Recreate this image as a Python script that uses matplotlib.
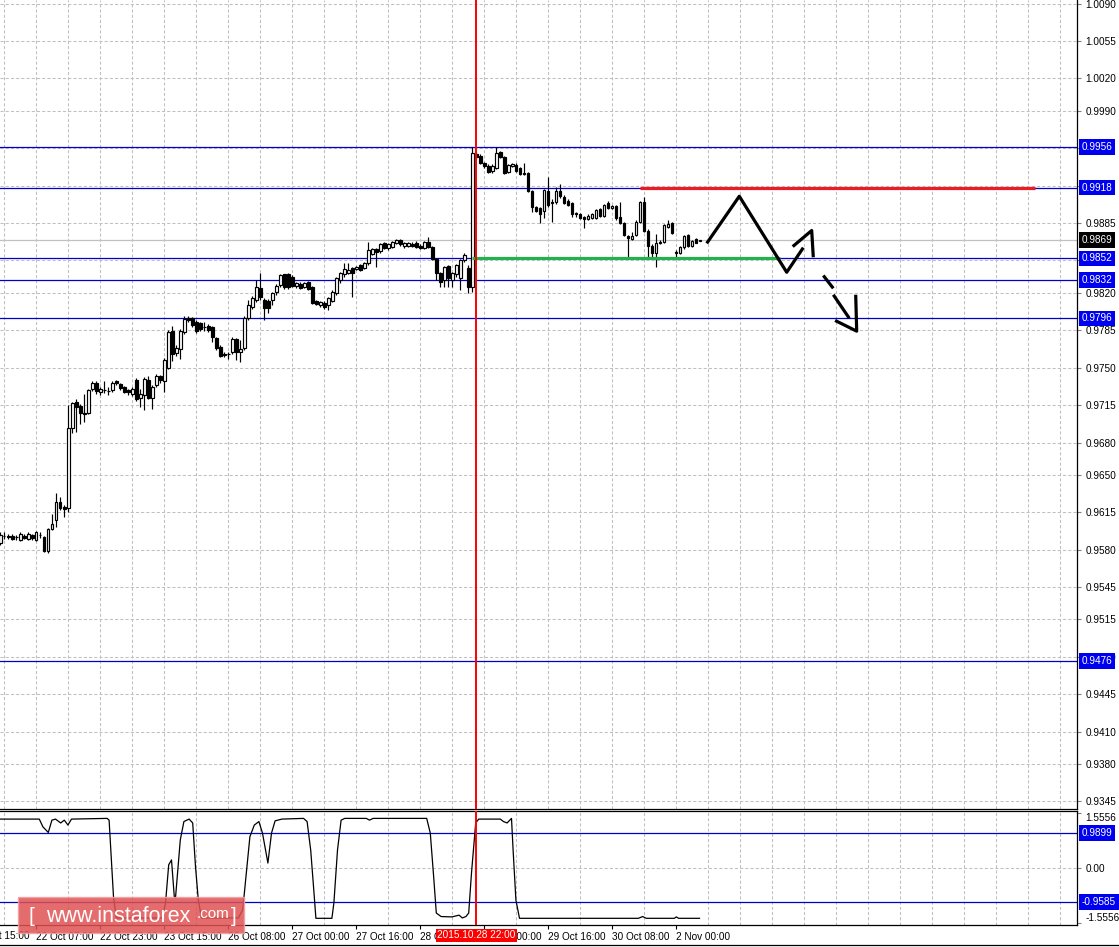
import matplotlib
matplotlib.use("Agg")
import matplotlib.pyplot as plt
from matplotlib.patches import Rectangle
from matplotlib.lines import Line2D
import numpy as np

plt.rcParams['font.family'] = ['Liberation Sans', 'DejaVu Sans']

# H1 candles, bar 0 = 21 Oct 22:00
opens = [
    .9586, .9593, .9593, .9593, .9592, .9589, .9593, .9590, .9594, .9589,
    .9594, .9592, .9579, .9599, .9608, .9624, .9620, .9619, .9694, .9718,
    .9714, .9708, .9708, .9730, .9736, .9727, .9729, .9728, .9729, .9737,
    .9735, .9732, .9729, .9725, .9738, .9722, .9724, .9738, .9722, .9734,
    .9742, .9737, .9750, .9784, .9764, .9767, .9783, .9796, .9796, .9793,
    .9792, .9788, .9789, .9788, .9778, .9769, .9763, .9763, .9765, .9777,
    .9765, .9768, .9796, .9807, .9813, .9824, .9813, .9812, .9813, .9821,
    .9827, .9837, .9837, .9835, .9826, .9828, .9825, .9830, .9825, .9812,
    .9808, .9810, .9808, .9812, .9820, .9832, .9837, .9838, .9843, .9842,
    .9846, .9843, .9848, .9856, .9861, .9859, .9866, .9862, .9863, .9866,
    .9869, .9864, .9864, .9865, .9866, .9864, .9862, .9867, .9863, .9851,
    .9838, .9832, .9845, .9832, .9837, .9834, .9850, .9843, .9825, .9949,
    .9948, .9941, .9938, .9934, .9936, .9951, .9947, .9933, .9938, .9939,
    .9936, .9932, .9932, .9915, .9900, .9899, .9896, .9915, .9904, .9905,
    .9915, .9909, .9906, .9904, .9894, .9893, .9891, .9889, .9890, .9890,
    .9898, .9892, .9904, .9899, .9901, .9891, .9885, .9873, .9870, .9874,
    .9886, .9905, .9878, .9864, .9857, .9867, .9867, .9881, .9885, .9858,
    .9857, .9863, .9874, .9864, .9870, .9868]
highs = [
    .9596, .9596, .9595, .9595, .9594, .9596, .9595, .9596, .9595, .9597,
    .9596, .9593, .9600, .9613, .9633, .9629, .9622, .9715, .9718, .9721,
    .9716, .9725, .9730, .9737, .9737, .9732, .9737, .9732, .9737, .9738,
    .9736, .9733, .9730, .9732, .9740, .9730, .9741, .9742, .9734, .9744,
    .9743, .9759, .9785, .9789, .9771, .9786, .9798, .9798, .9797, .9794,
    .9793, .9793, .9791, .9789, .9779, .9771, .9765, .9765, .9779, .9778,
    .9776, .9798, .9813, .9817, .9832, .9838, .9815, .9814, .9821, .9828,
    .9837, .9837, .9838, .9836, .9830, .9830, .9830, .9831, .9826, .9813,
    .9812, .9812, .9816, .9822, .9835, .9839, .9848, .9848, .9844, .9845,
    .9847, .9849, .9867, .9862, .9862, .9866, .9867, .9866, .9868, .9870,
    .9870, .9867, .9867, .9867, .9868, .9865, .9868, .9872, .9864, .9852,
    .9839, .9845, .9846, .9839, .9847, .9851, .9857, .9846, .9956, .9951,
    .9949, .9942, .9940, .9940, .9956, .9952, .9948, .9940, .9941, .9941,
    .9937, .9941, .9933, .9916, .9901, .9900, .9917, .9928, .9907, .9919,
    .9921, .9911, .9907, .9905, .9895, .9894, .9892, .9893, .9894, .9898,
    .9899, .9903, .9906, .9902, .9902, .9905, .9886, .9874, .9877, .9888,
    .9906, .9909, .9879, .9865, .9875, .9869, .9884, .9888, .9886, .9860,
    .9864, .9874, .9875, .9869, .9871, .9869]
lows = [
    .9584, .9590, .9590, .9589, .9589, .9588, .9590, .9589, .9589, .9588,
    .9591, .9578, .9577, .9598, .9601, .9617, .9610, .9615, .9689, .9690,
    .9697, .9699, .9707, .9728, .9725, .9724, .9726, .9724, .9727, .9734,
    .9729, .9726, .9724, .9723, .9719, .9713, .9710, .9721, .9711, .9732,
    .9736, .9727, .9749, .9756, .9761, .9758, .9781, .9793, .9788, .9782,
    .9784, .9784, .9783, .9774, .9766, .9760, .9760, .9758, .9763, .9757,
    .9755, .9766, .9794, .9805, .9811, .9813, .9794, .9801, .9808, .9818,
    .9825, .9823, .9823, .9825, .9824, .9823, .9824, .9822, .9809, .9808,
    .9807, .9805, .9804, .9811, .9818, .9829, .9835, .9837, .9816, .9841,
    .9840, .9842, .9846, .9855, .9844, .9857, .9861, .9860, .9862, .9865,
    .9864, .9862, .9863, .9863, .9862, .9861, .9861, .9862, .9850, .9832,
    .9825, .9825, .9825, .9825, .9835, .9822, .9849, .9820, .9821, .9945,
    .9940, .9936, .9932, .9932, .9935, .9946, .9931, .9932, .9937, .9933,
    .9930, .9930, .9914, .9895, .9895, .9885, .9890, .9900, .9886, .9903,
    .9908, .9903, .9901, .9891, .9891, .9889, .9880, .9888, .9889, .9889,
    .9891, .9891, .9898, .9898, .9888, .9884, .9873, .9853, .9869, .9873,
    .9885, .9877, .9852, .9852, .9844, .9865, .9866, .9880, .9875, .9853,
    .9856, .9861, .9863, .9863, .9866, .9868]
closes = [
    .9594, .9593, .9592, .9590, .9592, .9595, .9591, .9595, .9591, .9596,
    .9594, .9579, .9599, .9604, .9624, .9619, .9618, .9694, .9717, .9713,
    .9708, .9707, .9729, .9736, .9728, .9730, .9729, .9728, .9736, .9736,
    .9731, .9727, .9727, .9730, .9721, .9725, .9739, .9722, .9732, .9742,
    .9738, .9757, .9783, .9763, .9768, .9784, .9795, .9794, .9790, .9784,
    .9786, .9788, .9785, .9779, .9768, .9761, .9762, .9763, .9777, .9765,
    .9767, .9796, .9808, .9815, .9825, .9816, .9806, .9806, .9820, .9826,
    .9836, .9825, .9825, .9826, .9829, .9824, .9829, .9823, .9810, .9809,
    .9811, .9807, .9815, .9821, .9834, .9838, .9842, .9841, .9838, .9844,
    .9841, .9848, .9860, .9861, .9858, .9865, .9862, .9865, .9867, .9869,
    .9865, .9866, .9866, .9864, .9863, .9862, .9867, .9863, .9851, .9838,
    .9830, .9844, .9834, .9838, .9846, .9850, .9855, .9825, .9950, .9947,
    .9941, .9938, .9933, .9938, .9950, .9947, .9932, .9939, .9940, .9934,
    .9931, .9931, .9915, .9900, .9896, .9893, .9916, .9902, .9905, .9915,
    .9910, .9904, .9902, .9893, .9893, .9890, .9889, .9892, .9893, .9897,
    .9892, .9902, .9899, .9901, .9890, .9885, .9874, .9871, .9873, .9886,
    .9905, .9878, .9864, .9857, .9866, .9866, .9883, .9884, .9876, .9857,
    .9863, .9873, .9864, .9868, .9866, .9869]

# indicator (lower window) vertices: bar position, value
ind_bars = [0, 9.75, 10.65, 12.0, 12.9, 13.8, 15.1, 16.0, 16.9, 17.8,
            26.7, 27.2, 28.3, 29.0, 40.5, 41.3, 42.1, 42.8, 43.5, 43.8,
            45.0, 45.9, 47.2, 48.1, 48.8, 49.5, 50.3, 59.5, 60.6, 62.4,
            63.5, 64.65, 65.55, 66.9, 67.8, 68.7, 70.4, 75.8, 76.7, 77.6,
            78.5, 78.9, 82.9, 83.4, 84.3, 85.2, 86.1, 91.5, 92.3, 93.2,
            106.6, 107.5, 108.4, 109.0, 110.2, 112.9, 114.7, 115.5, 116.4, 117.1,
            117.8, 118.85, 119.6, 125.0, 125.8, 126.7, 127.8, 128.2, 128.9, 129.8,
            159.5, 160.6, 161.5, 168.5, 169.0, 169.6, 174.8]
ind_vals = [1.39, 1.39, 1.17, 1.01, 1.36, 1.39, 1.28, 1.36, 1.22, 1.39,
            1.41, 1.36, -0.82, -1.42, -1.42, -1.0, 0.09, 0.23, -0.82, -0.85,
            0.80, 1.32, 1.39, 1.28, 0.04, -0.91, -1.42, -1.42, -1.19, 0.89,
            1.22, 1.32, 0.99, 0.14, 0.99, 1.34, 1.39, 1.41, 1.32, 0.51,
            -0.82, -1.43, -1.43, -0.99, 0.51, 1.36, 1.41, 1.41, 1.36, 1.41,
            1.41, 0.99, -0.34, -1.28, -1.38, -1.39, -1.34, -1.42, -1.38, -1.28,
            -0.14, 1.28, 1.39, 1.39, 1.32, 1.28, 1.41, 0.51, -0.91, -1.43,
            -1.43, -1.38, -1.43, -1.43, -1.39, -1.43, -1.43]

# levels and drawings
blue_levels = [0.9956, 0.9918, 0.9852, 0.9832, 0.9796, 0.9476]
ind_levels = [0.9899, -0.9585]
bid = 0.9869
marker_bar = 119
marker_label = "2015.10.28 22:00"
red_seg = ([159.9, 258.7], 0.9918)
green_seg = ([117.9, 194.9], 0.9852)
zig_bars = [176.6, 184.75, 196.6, 200.75]
zig_px = [0.9866, 0.9910, 0.9839, 0.9862]
head_up_bars = [198.1, 202.85, 203.25]
head_up_px = [0.9863, 0.9878, 0.9853]
dash1_bars = [205.75, 208.25]
dash1_px = [0.9836, 0.9824]
dash2_bars = [208.25, 212.25]
dash2_px = [0.9818, 0.9796]
head_dn_bars = [208.7, 214.1, 213.85]
head_dn_px = [0.9794, 0.9784, 0.9818]

price_ticks = [1.0090, 1.0055, 1.0020, 0.9990, 0.9955, 0.9920, 0.9885, 0.9850,
               0.9820, 0.9785, 0.9750, 0.9715, 0.9680, 0.9650, 0.9615, 0.9580,
               0.9545, 0.9515, 0.9480, 0.9445, 0.9410, 0.9380, 0.9345]
hidden_ticks = [0.9955, 0.9920, 0.9850]   # covered by the level boxes
time_ticks = [9, 25, 41, 57, 73, 89, 105, 121, 137, 153, 169]
time_labels = ["22 Oct 07:00", "22 Oct 23:00", "23 Oct 15:00",
               "26 Oct 08:00", "27 Oct 00:00", "27 Oct 16:00", "28 Oct 08:00",
               "29 Oct 00:00", "29 Oct 16:00", "30 Oct 08:00", "2 Nov 00:00"]
first_tick, first_label = -7, "21 Oct 15:00"

W, H = 1119, 947
fig = plt.figure(figsize=(W / 100, H / 100), dpi=100)
ax = fig.add_axes([0, 1 - 809 / H, 1077 / W, 809 / H])
ax2 = fig.add_axes([0, 1 - 925 / H, 1077 / W, 114 / H])

LINE_BLUE = '#0000C8'
BOX_BLUE = '#0000F0'
GRID = '#C0C0C0'
FS = 7.2
dash = (0, (3, 2))
XLIM = (-0.075, 269.175)

for a in (ax, ax2):
    a.set_xticks(np.arange(1, 270, 8), minor=True)
    a.grid(axis='x', which='minor', color=GRID, ls=dash, lw=0.75)
    a.spines['left'].set_visible(False)
    for s in ('right', 'bottom', 'top'):
        a.spines[s].set_linewidth(0.9)
        a.spines[s].set_color('black')
    a.yaxis.tick_right()
    a.tick_params(axis='y', which='both', length=3, color='#808080', labelsize=FS, pad=3)
    a.tick_params(axis='x', which='minor', length=0)
ax.spines['top'].set_visible(False)

# main window
ax.set_ylim(0.93377, 1.00933)
ax.set_yticks(price_ticks)
ax.set_yticklabels(["" if v in hidden_ticks else f"{v:.4f}" for v in price_ticks])
ax.grid(axis='y', color=GRID, ls=dash, lw=0.75)
ax.set_xticks([])

for lv in blue_levels:
    ax.axhline(lv, color=LINE_BLUE, lw=0.9, zorder=2)
ax.axhline(bid, color=GRID, lw=0.9, zorder=2)

o = np.array(opens); h = np.array(highs); l = np.array(lows); c = np.array(closes)
xb = np.arange(len(o))
ax.vlines(xb, l, h, color='black', lw=0.85, zorder=3)
up = c >= o
bot = np.minimum(o, c)
hgt = np.abs(c - o)
ax.bar(xb[up], hgt[up], bottom=bot[up], width=0.6, facecolor='white',
       edgecolor='black', lw=0.85, zorder=4)
ax.bar(xb[~up], hgt[~up], bottom=bot[~up], width=0.6, facecolor='black',
       edgecolor='black', lw=0.85, zorder=4)

ax.plot(red_seg[0], [red_seg[1]] * 2, color='#EC1C24', lw=2.3, zorder=5, solid_capstyle='butt')
ax.plot(green_seg[0], [green_seg[1]] * 2, color='#22B14C', lw=2.3, zorder=5, solid_capstyle='butt')

pen = dict(color='black', lw=2.3, zorder=6, solid_capstyle='butt')
ax.plot(zig_bars, zig_px, **pen)
ax.plot(head_up_bars, head_up_px, **pen)
ax.plot(dash1_bars, dash1_px, **pen)
ax.plot(dash2_bars, dash2_px, **pen)
ax.plot(head_dn_bars, head_dn_px, **pen)

for a in (ax, ax2):
    a.axvline(marker_bar, color='#FF0000', lw=1.4, zorder=7)


def price_box(axis, val, text, fc):
    axis.annotate(text, xy=(1, val), xycoords=('axes fraction', 'data'),
                  xytext=(3.4, 0), textcoords='offset points', ha='left', va='center',
                  color='white', fontsize=FS, annotation_clip=False, zorder=10,
                  bbox=dict(boxstyle='square,pad=0.28', fc=fc, ec='none'))


for lv in blue_levels:
    price_box(ax, lv, f"{lv:.4f}", BOX_BLUE)
price_box(ax, bid, f"{bid:.4f}", 'black')

# indicator window
ax2.set_ylim(-1.62, 1.62)
ax2.set_yticks([1.5556, 0, -1.5556])
ax2.set_yticklabels(['1.5556', '0.00', '-1.5556'])
tl = ax2.get_yticklabels()
tl[0].set_va('top')
tl[2].set_va('bottom')
ax2.axhline(0, color=GRID, ls=dash, lw=0.75, zorder=1)
for lv in ind_levels:
    ax2.axhline(lv, color=LINE_BLUE, lw=0.9, zorder=2)
    price_box(ax2, lv, f"{lv:.4f}", BOX_BLUE)
ax2.plot(ind_bars, ind_vals, color='black', lw=0.9, zorder=4)

ax2.set_xticks(time_ticks)
ax2.set_xticklabels(time_labels)
for t in ax2.get_xticklabels():
    t.set_ha('left')
ax2.tick_params(axis='x', which='major', length=3, color='black', labelsize=FS, pad=2)
ax2.annotate(first_label, xy=(first_tick, 0), xycoords=('data', 'axes fraction'),
             xytext=(0, -4.2), textcoords='offset points', ha='left', va='top',
             fontsize=FS, annotation_clip=False)

ax2.annotate(marker_label, xy=(marker_bar, 0), xycoords=('data', 'axes fraction'),
             xytext=(0, -3.6), textcoords='offset points', ha='center', va='top',
             color='white', fontsize=FS, annotation_clip=False, zorder=10,
             bbox=dict(boxstyle='square,pad=0.15', fc='#FF0000', ec='none'))

for a in (ax, ax2):
    a.set_xlim(*XLIM)

fig.add_artist(Line2D([0, 1], [1 - 945 / H] * 2, color='black', lw=0.9))

# watermark
fig.add_artist(Rectangle((18 / W, 1 - 933 / H), 226 / W, 36 / H, transform=fig.transFigure,
                         facecolor='#E05252', edgecolor='#F2A0A0', lw=1.0, alpha=0.85, zorder=20))
wm_y = 1 - 916 / H
fig.text(29 / W, wm_y, "[", color='white', fontsize=15, va='center', ha='left', zorder=21)
fig.text(46 / W, wm_y, "www.instaforex", color='white', fontsize=15.5, va='center', ha='left', zorder=21)
fig.text(197 / W, wm_y + 2 / H, ".com", color='white', fontsize=11, va='center', ha='left', zorder=21)
fig.text(231 / W, wm_y, "]", color='white', fontsize=15, va='center', ha='left', zorder=21)

fig.savefig('out.png', dpi=100, facecolor='white')
